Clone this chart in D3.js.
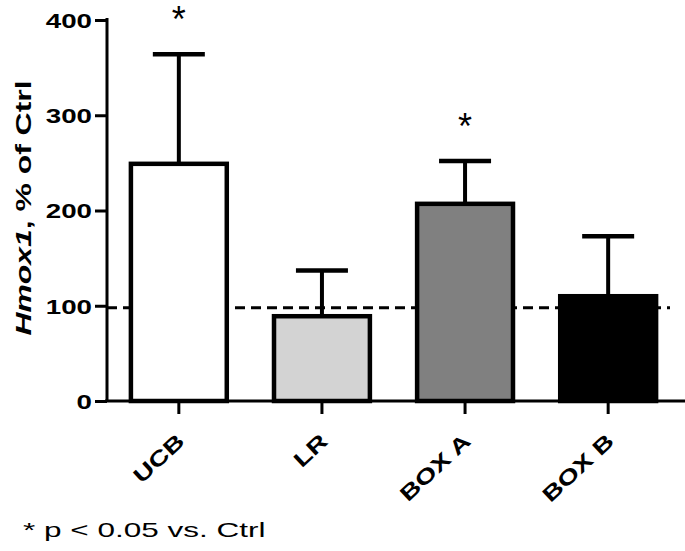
<!DOCTYPE html>
<html><head><meta charset="utf-8">
<script src="https://cdn.jsdelivr.net/npm/d3@7"></script>
<style>body{margin:0;background:#fff}svg{display:block}text{font-family:"Liberation Sans",Arial,sans-serif}</style>
</head><body>
<svg id="c" width="685" height="551"></svg>
<script>
const categories = ["UCB", "LR", "BOX A", "BOX B"];
const means = [249, 89, 207, 110];
const errUpper = [364, 137, 252, 173];
const fills = ["#ffffff", "#d3d3d3", "#808080", "#000000"];
const significant = [true, false, true, false];
const yTicks = [0, 100, 200, 300, 400];
const refLine = 98;

const FF = "'Liberation Sans',Arial,sans-serif";
const svg = d3.select("#c");
const y = d3.scaleLinear().domain([0, 400]).range([401, 20]);
const x = d3.scaleBand().domain(categories).range([107, 680]).paddingInner(0.33).paddingOuter(0.167);

function stretch(sel, ratio) {
  sel.each(function () {
    const w = this.getComputedTextLength();
    d3.select(this).attr("textLength", w * ratio).attr("lengthAdjust", "spacingAndGlyphs");
  });
}

// error bars
categories.forEach((c, i) => {
  const cx = x(c) + x.bandwidth() / 2;
  svg.append("line").attr("x1", cx).attr("x2", cx).attr("y1", y(means[i])).attr("y2", y(errUpper[i]))
    .attr("stroke", "#000").attr("stroke-width", 4);
  svg.append("line").attr("x1", cx - 26).attr("x2", cx + 26).attr("y1", y(errUpper[i])).attr("y2", y(errUpper[i]))
    .attr("stroke", "#000").attr("stroke-width", 4.5);
});
// dashed reference
svg.append("line").attr("x1", 107).attr("x2", 670).attr("y1", y(refLine)).attr("y2", y(refLine))
  .attr("stroke", "#000").attr("stroke-width", 3).attr("stroke-dasharray", "10,6");
// bars
categories.forEach((c, i) => {
  svg.append("rect").attr("x", x(c)).attr("y", y(means[i])).attr("width", x.bandwidth()).attr("height", y(0) - y(means[i]))
    .attr("fill", fills[i]).attr("stroke", "#000").attr("stroke-width", 4.5);
  if (significant[i]) {
    svg.append("text").attr("x", x(c) + x.bandwidth() / 2).attr("y", y(errUpper[i]) - 43 + 0.58 * 36)
      .attr("text-anchor", "middle").attr("font-size", 36).style("font-family", FF).text("*");
  }
});

// y axis
const ya = svg.append("g").attr("transform", "translate(107,0)")
  .call(d3.axisLeft(y).tickValues(yTicks).tickSize(12).tickPadding(3).tickFormat(d3.format("d")));
ya.select(".domain").attr("stroke-width", 3).attr("d", "M0,18V402");
ya.selectAll(".tick line").attr("stroke-width", 3);
const yt = ya.selectAll(".tick text").attr("font-size", 21).attr("font-weight", "bold").attr("fill", "#000").attr("dy", "0.35em")
  .style("font-family", FF);
stretch(yt, 1.32);

// x axis
const xa = svg.append("g").attr("transform", "translate(0,401)")
  .call(d3.axisBottom(x).tickSize(13).tickPadding(4));
xa.select(".domain").attr("stroke-width", 3).attr("d", "M105,0H685");
xa.selectAll(".tick line").attr("stroke-width", 3);
const xt = xa.selectAll(".tick text").attr("font-size", 21).attr("font-weight", "bold").attr("fill", "#000")
  .style("font-family", FF)
  .attr("text-anchor", "end").attr("x", 0).attr("y", 0).attr("dy", 0)
  .attr("transform", "translate(7,42) rotate(-43)");
stretch(xt, 1.33);

// y title
const t = svg.append("text").attr("transform", "translate(31,208) rotate(-90)").attr("text-anchor", "middle")
  .attr("font-size", 22).attr("font-weight", "bold").style("font-family", FF);
t.append("tspan").attr("font-style", "italic").text("Hmox1");
t.append("tspan").text(", % of Ctrl");
t.attr("textLength", 255).attr("lengthAdjust", "spacingAndGlyphs");

// footnote
const fn = svg.append("text").attr("x", 23).attr("y", 537).attr("font-size", 21).style("font-family", FF).text("* p < 0.05 vs. Ctrl");
stretch(fn, 1.5);
</script>
</body></html>
